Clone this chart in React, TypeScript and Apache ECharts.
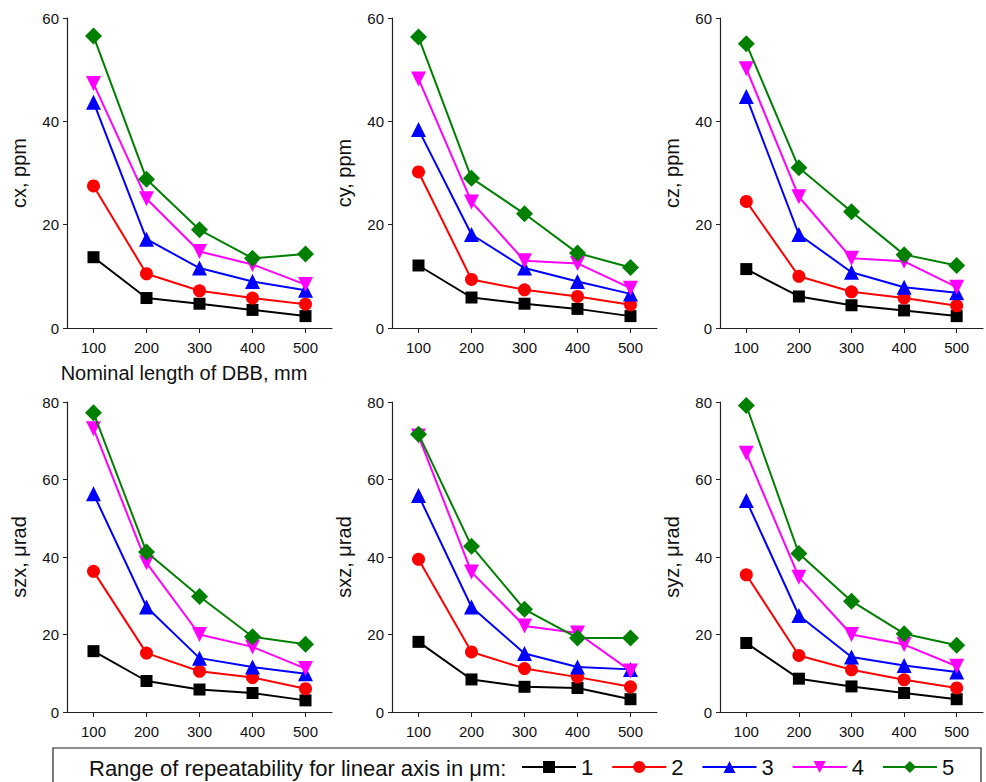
import React, { useEffect, useRef } from "react";
import * as echarts from "echarts";

const categories = ["100", "200", "300", "400", "500"];
const seriesNames = ["1", "2", "3", "4", "5"];

const cx1 = [13.7, 5.8, 4.7, 3.5, 2.3];
const cx2 = [27.5, 10.5, 7.2, 5.8, 4.6];
const cx3 = [43.7, 17.2, 11.6, 9.0, 7.3];
const cx4 = [47.3, 25.0, 14.8, 12.3, 8.4];
const cx5 = [56.5, 28.8, 19.0, 13.5, 14.3];

const cy1 = [12.1, 5.9, 4.7, 3.7, 2.3];
const cy2 = [30.2, 9.4, 7.4, 6.1, 4.5];
const cy3 = [38.4, 18.1, 11.6, 9.0, 6.6];
const cy4 = [48.2, 24.4, 13.0, 12.5, 7.7];
const cy5 = [56.3, 29.0, 22.1, 14.5, 11.7];

const cz1 = [11.4, 6.1, 4.4, 3.4, 2.3];
const cz2 = [24.5, 10.0, 7.0, 5.8, 4.3];
const cz3 = [44.8, 18.1, 10.8, 7.9, 6.8];
const cz4 = [50.2, 25.4, 13.5, 12.9, 7.9];
const cz5 = [55.0, 31.0, 22.5, 14.2, 12.1];

const szx1 = [15.7, 8.0, 5.8, 4.9, 3.0];
const szx2 = [36.3, 15.2, 10.5, 8.9, 6.0];
const szx3 = [56.3, 27.1, 13.9, 11.6, 9.9];
const szx4 = [73.1, 38.5, 20.0, 16.8, 11.2];
const szx5 = [77.2, 41.3, 29.8, 19.4, 17.5];

const sxz1 = [18.1, 8.4, 6.5, 6.2, 3.3];
const sxz2 = [39.4, 15.5, 11.2, 9.0, 6.5];
const sxz3 = [55.9, 27.1, 15.1, 11.6, 11.0];
const sxz4 = [71.2, 36.1, 22.2, 20.4, 10.6];
const sxz5 = [71.7, 42.8, 26.5, 19.1, 19.1];

const syz1 = [17.8, 8.6, 6.6, 4.9, 3.3];
const syz2 = [35.4, 14.6, 10.9, 8.3, 6.2];
const syz3 = [54.6, 24.9, 14.2, 12.0, 10.3];
const syz4 = [66.8, 34.8, 20.0, 17.4, 11.8];
const syz5 = [79.1, 40.9, 28.6, 20.2, 17.2];

const panelNames = ["cx, ppm", "cy, ppm", "cz, ppm", "szx, \u03bcrad", "sxz, \u03bcrad", "syz, \u03bcrad"];
const panelMax = [60, 60, 60, 80, 80, 80];
const panelData = [
  [cx1, cx2, cx3, cx4, cx5],
  [cy1, cy2, cy3, cy4, cy5],
  [cz1, cz2, cz3, cz4, cz5],
  [szx1, szx2, szx3, szx4, szx5],
  [sxz1, sxz2, sxz3, sxz4, sxz5],
  [syz1, syz2, syz3, syz4, syz5],
];

const legendLabel = "Range of repeatability for linear axis in \u03bcm:";
const xTitle = "Nominal length of DBB, mm";

const colors = ["#000000", "#ff0000", "#0000ff", "#ff00ff", "#008000"];
const symbols = ["rect", "circle", "triangle", "triangle", "diamond"];
const symbolSizes = [12, 13, 15, 15, 17];
const symbolRotates = [0, 0, 0, 180, 0];

const FONT = "Liberation Sans, Arial, Helvetica, sans-serif";

export default function App() {
  const ref = useRef<HTMLDivElement>(null);
  useEffect(() => {
    if (!ref.current) return;
    const chart = echarts.init(ref.current, null, { renderer: "svg" });
    const lefts = [67, 392, 720];
    const widths = [265, 265, 263];
    const tops = [18, 402];
    const grids: any[] = [];
    const xAxes: any[] = [];
    const yAxes: any[] = [];
    const series: any[] = [];
    for (let p = 0; p < 6; p++) {
      const col = p % 3;
      const row = Math.floor(p / 3);
      grids.push({ left: lefts[col], width: widths[col], top: tops[row], height: 310, containLabel: false });
      xAxes.push({
        type: "category",
        gridIndex: p,
        data: categories,
        boundaryGap: true,
        axisLine: { show: true, lineStyle: { color: "#222", width: 1.2 } },
        axisTick: { show: true, alignWithLabel: true, length: 5, lineStyle: { color: "#222" } },
        axisLabel: { color: "#111", fontSize: 15, fontFamily: FONT, margin: 12 },
        splitLine: { show: false },
      });
      yAxes.push({
        type: "value",
        gridIndex: p,
        min: 0,
        max: panelMax[p],
        interval: 20,
        name: panelNames[p],
        nameLocation: "middle",
        nameGap: 38,
        nameTextStyle: { color: "#111", fontSize: 20, fontFamily: FONT },
        axisLine: { show: true, lineStyle: { color: "#222", width: 1.2 } },
        axisTick: { show: true, length: 4, lineStyle: { color: "#222" } },
        axisLabel: { color: "#111", fontSize: 15, fontFamily: FONT, margin: 8 },
        splitLine: { show: false },
      });
      for (let s = 0; s < 5; s++) {
        series.push({
          type: "line",
          name: seriesNames[s],
          xAxisIndex: p,
          yAxisIndex: p,
          data: panelData[p][s],
          symbol: symbols[s],
          symbolSize: symbolSizes[s],
          symbolRotate: symbolRotates[s],
          showAllSymbol: true,
          lineStyle: { color: colors[s], width: 2 },
          itemStyle: { color: colors[s], borderWidth: 0 },
          emphasis: { disabled: true },
          z: 2 + s,
        });
      }
    }
    chart.setOption({
      animation: false,
      backgroundColor: "#ffffff",
      grid: grids,
      xAxis: xAxes,
      yAxis: yAxes,
      series,
      legend: {
        data: seriesNames,
        left: 521,
        top: 756,
        padding: 0,
        itemWidth: 54,
        itemHeight: 15,
        itemGap: 18,
        selectedMode: false,
        textStyle: { color: "#111", fontSize: 22, fontFamily: FONT, padding: 0 },
        z: 20,
      },
      graphic: [
        {
          type: "rect",
          shape: { x: 53, y: 748, width: 928, height: 60 },
          style: { fill: "#fff", stroke: "#222", lineWidth: 1.2 },
          z: 10,
        },
        {
          type: "text",
          x: 89,
          y: 768,
          style: {
            text: legendLabel,
            fill: "#111",
            font: "22px " + FONT,
            verticalAlign: "middle",
          },
          z: 11,
        },
        {
          type: "text",
          x: 184,
          y: 373,
          style: {
            text: xTitle,
            fill: "#111",
            font: "20px " + FONT,
            align: "center",
            verticalAlign: "middle",
          },
          z: 11,
        },
      ],
    });
    return () => chart.dispose();
  }, []);
  return (
    <div
      ref={ref}
      style={{ position: "fixed", left: 0, top: 0, width: 986, height: 782, background: "#fff" }}
    />
  );
}
